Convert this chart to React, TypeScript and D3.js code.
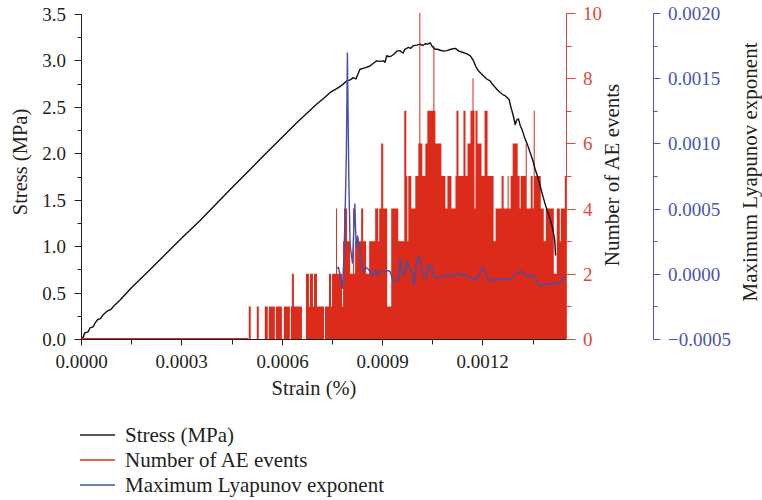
import React from "react";
import * as d3 from "d3";

// ---------- data ----------
const stressStrain = [
  0, 0.0000075, 0.0000105, 0.000021, 0.000027, 0.000036, 0.000042, 0.00005, 0.000058, 0.000066,
  0.000078, 0.00009, 0.000102, 0.000117, 0.00015, 0.000206, 0.000299, 0.000356, 0.000446, 0.000545,
  0.000645, 0.000705, 0.000725, 0.000745, 0.000762, 0.000775, 0.000795, 0.000805, 0.000814, 0.000822,
  0.000834, 0.000849, 0.000864, 0.000874, 0.000884, 0.000894, 0.000904, 0.000909, 0.000914, 0.000922,
  0.000929, 0.000936, 0.000944, 0.000954, 0.000958, 0.000963, 0.000968, 0.000979, 0.000986, 0.000994,
  0.001004, 0.001014, 0.001022, 0.001029, 0.001036, 0.001044, 0.00105, 0.001059, 0.001066, 0.001074,
  0.001084, 0.001094, 0.001106, 0.001119, 0.00113, 0.001143, 0.001154, 0.001164, 0.001173, 0.001181,
  0.001188, 0.001196, 0.001203, 0.001213, 0.001223, 0.001231, 0.001238, 0.001246, 0.001253, 0.001262,
  0.001268, 0.00128, 0.001285, 0.001289, 0.001294, 0.001298, 0.001303, 0.001308, 0.001313, 0.001318,
  0.001328, 0.001336, 0.001343, 0.001351, 0.001358, 0.001366, 0.001373, 0.00138, 0.001388, 0.001395,
  0.001403, 0.00141, 0.001416, 0.001419,
];
const stressMPa = [
  0.02, 0.022, 0.065, 0.076, 0.12, 0.13, 0.17, 0.21, 0.22, 0.26,
  0.3, 0.32, 0.37, 0.42, 0.55, 0.745, 1.08, 1.275, 1.61, 1.97,
  2.33, 2.53, 2.59, 2.655, 2.69, 2.72, 2.78, 2.79, 2.815, 2.8,
  2.905, 2.92, 2.94, 2.97, 2.995, 2.99, 2.995, 2.98, 3.05, 3.04,
  3.05, 3.07, 3.1, 3.105, 3.09, 3.08, 3.12, 3.14, 3.13, 3.16,
  3.165, 3.175, 3.16, 3.18, 3.175, 3.19, 3.15, 3.12, 3.12, 3.11,
  3.1, 3.105, 3.12, 3.13, 3.1, 3.085, 3.07, 3.05, 3.0, 2.93,
  2.89, 2.86, 2.835, 2.8, 2.78, 2.74, 2.71, 2.68, 2.655, 2.63,
  2.62, 2.58, 2.5, 2.45, 2.38, 2.31, 2.36, 2.37, 2.3, 2.26,
  2.15, 2.08, 2.005, 1.92, 1.825, 1.74, 1.645, 1.55, 1.45, 1.37,
  1.285, 1.19, 1.07, 0.9,
];

// AE event counts sampled every 0.000003 strain starting at 0.0005
const aeStart = 0.0005;
const aeStep = 0.000003;
const aeCounts = [
  0, 1, 1, 0, 0, 0, 0, 0, 0, 1, 1, 0, 0, 0, 0, 0, 0, 1, 1, 1,
  0, 1, 1, 1, 1, 1, 1, 0, 1, 1, 1, 1, 1, 1, 0, 0, 1, 1, 1, 1,
  1, 1, 0, 1, 2, 2, 1, 1, 1, 1, 1, 1, 1, 1, 0, 0, 0, 0, 2, 2,
  2, 1, 2, 2, 2, 1, 2, 2, 2, 1, 1, 1, 1, 1, 1, 1, 0, 1, 1, 1,
  1, 2, 2, 1, 2, 2, 2, 2, 4, 2, 2, 2, 2, 2, 1, 3, 4, 4, 4, 3,
  3, 3, 2, 2, 2, 4, 2, 3, 3, 3, 3, 3, 3, 4, 4, 3, 3, 3, 2, 2,
  2, 3, 3, 3, 3, 3, 3, 4, 4, 4, 3, 4, 4, 6, 6, 4, 4, 4, 4, 1,
  1, 1, 1, 4, 4, 4, 4, 4, 4, 4, 3, 3, 3, 3, 3, 3, 7, 7, 5, 3,
  5, 5, 5, 4, 4, 4, 4, 5, 5, 5, 6, 10, 6, 6, 5, 5, 5, 6, 6, 7,
  7, 7, 7, 7, 7, 9, 7, 6, 6, 6, 6, 6, 6, 5, 5, 5, 5, 4, 4, 5,
  5, 5, 5, 4, 4, 4, 4, 5, 7, 7, 5, 5, 5, 5, 5, 7, 7, 5, 5, 6,
  6, 6, 7, 7, 8, 7, 4, 7, 7, 6, 6, 6, 6, 5, 5, 5, 7, 7, 7, 5,
  5, 5, 5, 5, 5, 3, 3, 4, 4, 4, 4, 4, 4, 5, 5, 4, 4, 4, 4, 5,
  4, 4, 5, 5, 6, 6, 6, 6, 6, 5, 5, 4, 5, 5, 5, 5, 5, 6, 4, 4,
  4, 4, 5, 5, 4, 7, 5, 5, 5, 5, 5, 5, 4, 4, 4, 3, 3, 4, 4, 4,
  4, 4, 4, 4, 4, 2, 2, 2, 4, 4, 4, 3, 4, 4, 4, 4, 5, 5,
];

const lyapStrain = [
  0.0007648, 0.0007696, 0.0007747, 0.0007816, 0.0007866, 0.0007905, 0.0007935, 0.0007965, 0.0008007, 0.0008046,
  0.0008115, 0.0008187, 0.0008225, 0.000827, 0.0008324, 0.0008396, 0.0008444, 0.0008515, 0.0008593, 0.0008695,
  0.0008794, 0.0008892, 0.0008994, 0.0009093, 0.0009191, 0.0009242, 0.0009341, 0.0009443, 0.0009491, 0.0009541,
  0.0009592, 0.0009661, 0.0009742, 0.000982, 0.0009891, 0.000996, 0.0010041, 0.001011, 0.001017, 0.0010238,
  0.0010319, 0.0010388, 0.0010469, 0.0010537, 0.0010639, 0.0010738, 0.0010938, 0.0011088, 0.0011237, 0.0011536,
  0.0011835, 0.0012009, 0.0012203, 0.0012482, 0.0012781, 0.001316, 0.0013331, 0.0013528, 0.0013729, 0.0013929,
  0.0014291, 0.0014462,
];
const lyapValue = [
  0.0000422, 0.0000498, -0.0000092, -0.0001112, 0.0001595, 0.000566, 0.000949, 0.001693, 0.000719, 0.000221,
  0.0000828, 0.000535, 0.0002055, 0.00029, 0.000198, 0.0000598, 0.0000215, 0.0000498, 0.0000345, -0.0000092,
  0.0000291, -0.0000092, 0.0000238, 0.0000161, 0.0000238, 0.0000161, -0.0000606, -0.0000422, -0.0000475, 0.0001189,
  0.0000038, -0.0000092, 0.0000982, 0.0000422, 0.0000161, -0.0000859, 0.0001058, 0.0001311, 0.0000675, -0.0000222,
  -0.0000345, 0.0000675, 0.0000598, -0.0000092, -0.0000345, -0.0000222, -0.0000092, -0.0000222, 0.0000023, -0.0000169,
  -0.0000475, 0.0000545, -0.0000552, -0.0000345, -0.0000475, 0.0000238, -0.0000169, -0.000013, -0.0000936, -0.0000782,
  -0.0000729, -0.0000222,
];

const xTicks = [0, 0.00015, 0.0003, 0.00045, 0.0006, 0.00075, 0.0009, 0.00105, 0.0012, 0.00135];
const xTickLabels = ["0.0000", "", "0.0003", "", "0.0006", "", "0.0009", "", "0.0012", ""];
const stressTicks = [0, 0.25, 0.5, 0.75, 1, 1.25, 1.5, 1.75, 2, 2.25, 2.5, 2.75, 3, 3.25, 3.5];
const aeTicks = [0, 1, 2, 3, 4, 5, 6, 7, 8, 9, 10];
const lyapTicks = [-0.0005, -0.00025, 0, 0.00025, 0.0005, 0.00075, 0.001, 0.00125, 0.0015, 0.00175, 0.002];

const legendLabels = ["Stress (MPa)", "Number of AE events", "Maximum Lyapunov exponent"];

// ---------- style ----------
const FONT = "'Liberation Serif', 'Times New Roman', serif";
const FS = 19; // tick labels
const FT = 21; // titles / legend
const TEXT = "#231f20";
const RED = "#dc2b1b";
const RED_AXIS = "#e2473a";
const BLUE = "#4350ab";
const BLUE_AXIS = "#4b55b0";

export default function App() {
  const x = d3.scaleLinear().domain([0, 0.00145]).range([81, 566]);
  const yS = d3.scaleLinear().domain([0, 3.5]).range([339, 14]);
  const yA = d3.scaleLinear().domain([0, 10]).range([339, 13]);
  const yL = d3.scaleLinear().domain([-0.0005, 0.002]).range([339, 13]);

  const stressLine = d3
    .line<number>()
    .x((_, i) => x(stressStrain[i]))
    .y((d) => yS(d));
  const lyapLine = d3
    .line<number>()
    .x((_, i) => x(lyapStrain[i]))
    .y((d) => yL(d));
  const aeArea = d3
    .area<number>()
    .x((_, i) => x(aeStart + i * aeStep))
    .y0(yA(0))
    .y1((d) => yA(d))
    .curve(d3.curveStep);

  const fmtL = d3.format(".4f");

  return (
    <svg
      width={762}
      height={500}
      style={{ position: "absolute", left: 0, top: 0, background: "#fff" }}
      fontFamily={FONT}
    >
      {/* AE baseline before first event */}
      <line x1={x(0)} x2={x(aeStart)} y1={yA(0) - 0.5} y2={yA(0) - 0.5} stroke={RED} strokeWidth={1} />
      {/* AE counts */}
      <path d={aeArea(aeCounts) || ""} fill={RED} stroke="none" />
      {/* stress */}
      <path d={stressLine(stressMPa) || ""} fill="none" stroke="#111" strokeWidth={1.4} strokeLinejoin="round" />
      {/* lyapunov */}
      <path d={lyapLine(lyapValue) || ""} fill="none" stroke={BLUE} strokeWidth={1.4} strokeLinejoin="round" />

      {/* left axis */}
      <g>
        <line x1={81.5} x2={81.5} y1={yS(3.5)} y2={339.5} stroke={TEXT} strokeWidth={1} />
        {stressTicks.map((t, i) => {
          const major = i % 2 === 0;
          const yy = Math.round(yS(t)) + 0.5;
          return (
            <g key={t}>
              <line x1={81.5} x2={81.5 - (major ? 7 : 4)} y1={yy} y2={yy} stroke={TEXT} />
              {major && (
                <text x={66} y={yy} dy="0.34em" textAnchor="end" fontSize={FS} fill={TEXT}>
                  {t.toFixed(1)}
                </text>
              )}
            </g>
          );
        })}
        <text transform={`translate(27,162) rotate(-90)`} textAnchor="middle" fontSize={20.5} fill={TEXT}>
          Stress (MPa)
        </text>
      </g>

      {/* bottom axis */}
      <g>
        <line x1={81} x2={566} y1={339.5} y2={339.5} stroke={TEXT} strokeWidth={1} />
        {xTicks.map((t, i) => {
          const xx = Math.round(x(t)) + 0.5;
          const major = xTickLabels[i] !== "";
          return (
            <g key={t}>
              <line x1={xx} x2={xx} y1={339.5} y2={339.5 + (major ? 6 : 5)} stroke={TEXT} />
              {major && (
                <text x={xx} y={368} textAnchor="middle" fontSize={FS} fill={TEXT}>
                  {xTickLabels[i]}
                </text>
              )}
            </g>
          );
        })}
        <text x={314} y={395} textAnchor="middle" fontSize={20.5} fill={TEXT}>
          Strain (%)
        </text>
      </g>

      {/* AE axis (right, red) */}
      <g>
        <line x1={566.5} x2={566.5} y1={yA(10)} y2={339.5} stroke={RED_AXIS} strokeWidth={1} />
        {aeTicks.map((t) => {
          const major = t % 2 === 0;
          const yy = Math.round(yA(t)) + 0.5;
          return (
            <g key={t}>
              <line x1={566.5} x2={566.5 + (major ? 9 : 5)} y1={yy} y2={yy} stroke={RED_AXIS} />
              {major && (
                <text x={583} y={yy} dy="0.34em" fontSize={FS} fill={RED_AXIS}>
                  {t}
                </text>
              )}
            </g>
          );
        })}
        <text transform={`translate(619,175) rotate(-90)`} textAnchor="middle" fontSize={FT} fill={TEXT}>
          Number of AE events
        </text>
      </g>

      {/* Lyapunov axis (far right, blue) */}
      <g>
        <line x1={653.5} x2={653.5} y1={yL(0.002)} y2={339.5} stroke={BLUE_AXIS} strokeWidth={1} />
        {lyapTicks.map((t, i) => {
          const major = i % 2 === 0;
          const yy = Math.round(yL(t)) + 0.5;
          return (
            <g key={t}>
              <line x1={653.5} x2={653.5 + (major ? 7 : 4)} y1={yy} y2={yy} stroke={BLUE_AXIS} />
              {major && (
                <text x={668} y={yy} dy="0.34em" fontSize={FS} fill={BLUE_AXIS}>
                  {fmtL(t)}
                </text>
              )}
            </g>
          );
        })}
        <text transform={`translate(757,172) rotate(-90)`} textAnchor="middle" fontSize={FT} fill={TEXT}>
          Maximum Lyapunov exponent
        </text>
      </g>

      {/* legend */}
      <g>
        {legendLabels.map((lab, i) => {
          const yy = 435 + i * 25;
          const col = i === 0 ? "#222" : i === 1 ? RED : BLUE;
          return (
            <g key={lab}>
              <line x1={80} x2={115} y1={yy} y2={yy} stroke={col} strokeWidth={1.3} />
              <text x={125} y={yy + 7} fontSize={FT} fill={TEXT}>
                {lab}
              </text>
            </g>
          );
        })}
      </g>
    </svg>
  );
}
